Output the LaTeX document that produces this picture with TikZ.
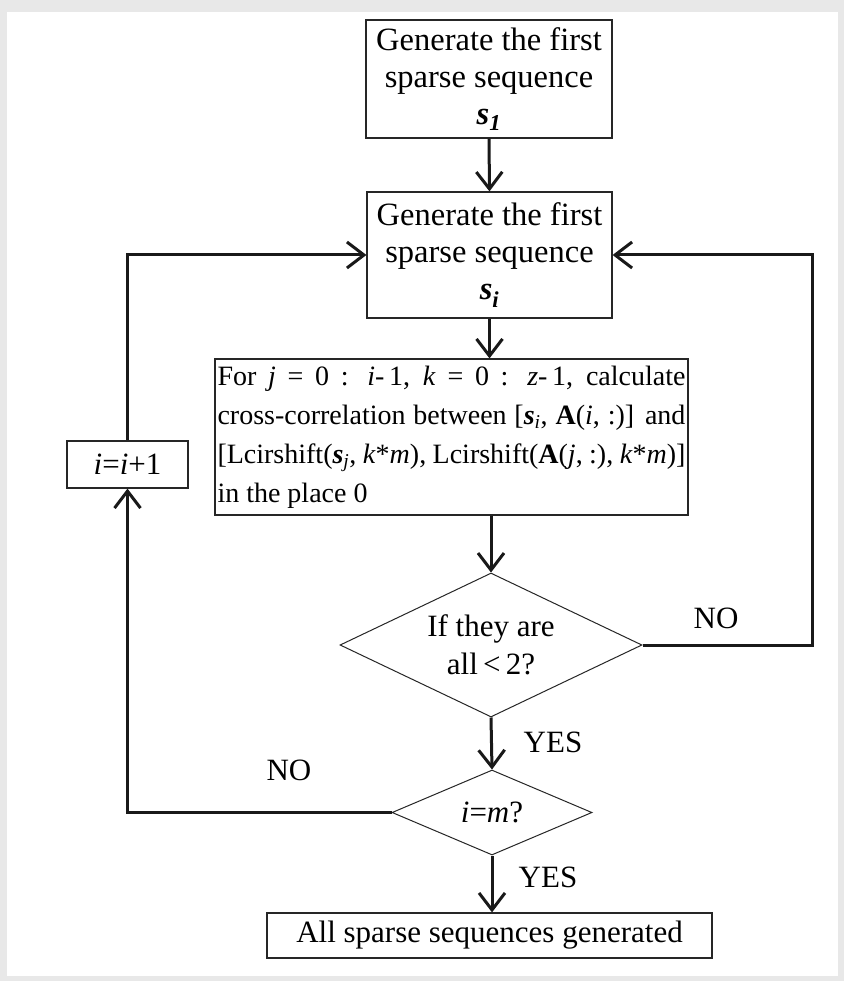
\documentclass[tikz,border=0pt]{standalone}
\usepackage{fontspec}
\setmainfont{Liberation Serif}
\usetikzlibrary{shapes.geometric,arrows.meta}
\newcommand\fsA{\fontsize{31}{38}\selectfont}
\newcommand\fsB{\fontsize{32.5}{37}\selectfont}
\newcommand\fsC{\fontsize{28}{39}\selectfont}
\newcommand\seqs[1]{\textbf{\textit{s}}\textsubscript{\textbf{\textit{#1}}}}
\newcommand\seql[1]{\textbf{\textit{s}}\textsubscript{\textit{#1}}}
\newcommand\jline[1]{\makebox[468pt][s]{\spaceskip=0pt\xspaceskip=0pt #1}}
\begin{document}
\begin{tikzpicture}[x=1pt,y=-1pt,
  every node/.style={font=\fsA,inner sep=0pt},
  box/.style={draw=black!85,line width=1.2pt,inner sep=0pt,align=center},
  dia/.style={draw=black!85,line width=1pt,diamond,inner sep=0pt},
  conn/.style={line width=3pt,draw=black!90,-{Straight Barb[length=17pt,width=26pt]}},
  lab/.style={font=\fsA,inner sep=0pt}]
\fill[black!9] (0,0) rectangle (844,981);
\fill[white] (7,12) rectangle (838,976);
\useasboundingbox (0,0) rectangle (844,981);

\node[box,minimum width=246pt,minimum height=118pt,font=\fsB] (b1) at (489,79)
  {Generate the first\\sparse sequence\\\seqs{1}};
\node[box,minimum width=245pt,minimum height=126pt,font=\fsB] (b2) at (489.5,255)
  {Generate the first\\sparse sequence\\\seqs{i}};
\node[box,minimum width=473pt,minimum height=156pt,font=\fsC,align=left] (b3) at (451.5,437)
  {\jline{For \textit{j} = 0 : \textit{i}-\,1, \textit{k} = 0 : \textit{z}-\,1, calculate}\\
   \jline{cross-correlation between [\seql{i}, \textbf{A}(\textit{i}, :)] and}\\
   \jline{[Lcirshift(\seql{j}, \textit{k}*\textit{m}), Lcirshift(\textbf{A}(\textit{j}, :), \textit{k}*\textit{m})]}\\
   \makebox[468pt][l]{in the place 0}};
\node[dia,minimum width=302pt,minimum height=144pt] (d1) at (491,645) {};
\node[align=center] (t1) at (d1) {If they are\\all\,<\,2?};
\node[dia,minimum width=200pt,minimum height=85pt] (d2) at (492,812.5) {};
\node (t2) at (d2) {\textit{i}=\textit{m}?};
\node[box,minimum width=445pt,minimum height=45pt] (b4) at (489.5,935.5) {All sparse sequences generated};
\node[box,minimum width=121pt,minimum height=47pt] (b5) at (127.5,464.5) {\textit{i}=\textit{i}+1};

\node[lab] (no1) at (716,618) {NO};
\node[lab] (yes1) at (553,742) {YES};
\node[lab] (no2) at (289,770) {NO};
\node[lab] (yes2) at (548,877) {YES};

\coordinate (rc) at (812,645);

\draw[conn] (b1.south) -- (b2.north);
\draw[conn] (b2.south) -- (b2.south |- b3.north);
\draw[conn] (d1.north |- b3.south) -- (d1.north);
\draw[conn] (d1.south) -- (d2.north);
\draw[conn] (d2.south) -- (d2.south |- b4.north);
\draw[conn] (d2.west) -| (b5.south);
\draw[conn] (b5.north) |- (b2.west);
\draw[conn] (d1.east) -- (rc) |- (b2.east);
\end{tikzpicture}
\end{document}
